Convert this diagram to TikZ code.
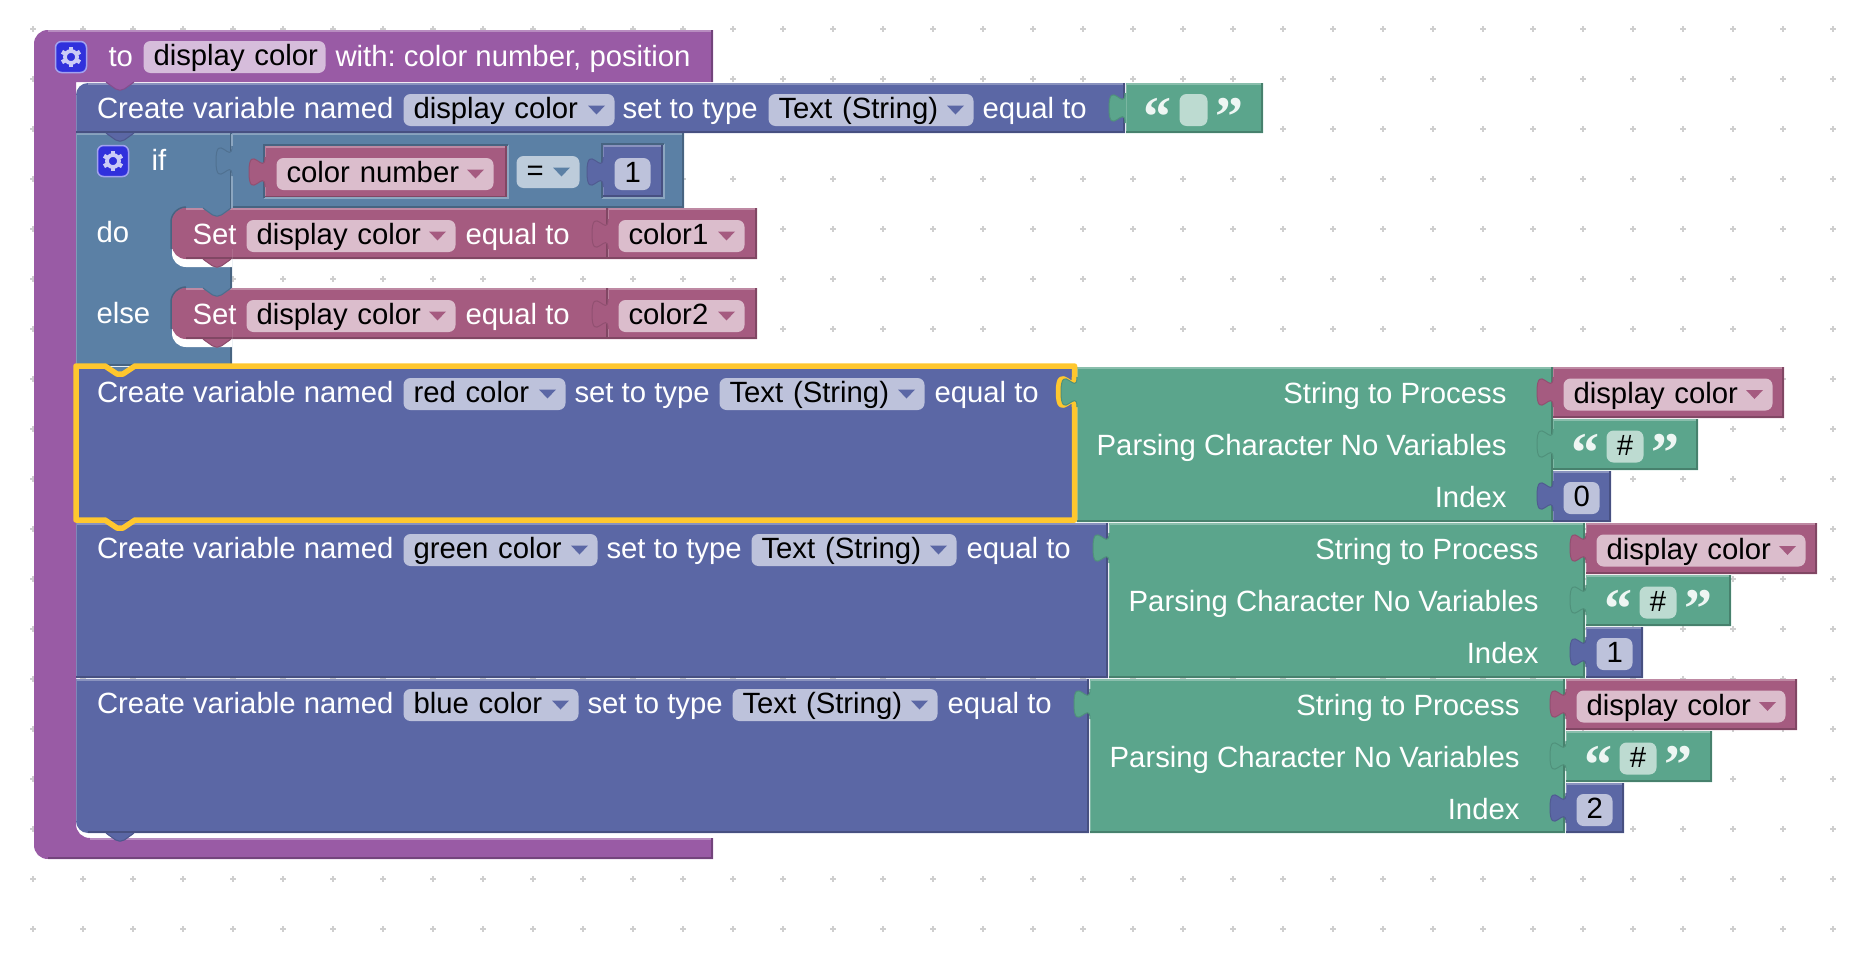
\documentclass[tikz,border=0pt]{standalone}
\usepackage{fontspec}
\setmainfont{Liberation Sans}
\newfontfamily\quotefont{Liberation Serif}
\usetikzlibrary{calc}
\definecolor{procc}{HTML}{995BA5}
\definecolor{varc}{HTML}{5B67A5}
\definecolor{ifc}{HTML}{5B80A5}
\definecolor{setc}{HTML}{A55B80}
\definecolor{txtc}{HTML}{5BA58C}
\definecolor{gearc}{HTML}{3030DC}
\definecolor{hilite}{HTML}{FFC72E}
\definecolor{dotc}{HTML}{CFCFCF}

\begin{document}
\begin{tikzpicture}[
  x=1pt, y=-1pt, line width=1pt,
  lbl/.style={font=\fontsize{29.3}{34}\selectfont\frenchspacing, text=white, anchor=base west, inner sep=0pt},
  lblr/.style={lbl, anchor=base east},
  fld/.style={font=\fontsize{29.3}{34}\selectfont\frenchspacing, text=black, fill=#1, rounded corners=7pt,
    anchor=west, minimum height=32pt, inner xsep=10pt, inner ysep=0pt,
    text height=22pt, text depth=5pt, align=left},
  fw/.style={minimum width=#1pt, text width=#1pt-20pt},
  quo/.style={font=\fontsize{56}{60}\quotefont\bfseries\selectfont, text=white, opacity=.9,
    anchor=base west, inner sep=0pt},
  gearbox/.style={fill=gearc, draw=gearc!45!white, line width=1.5pt, rounded corners=6pt,
    minimum size=31pt, inner sep=0pt},
]
  \useasboundingbox (0,0) rectangle (1866,964);

  % Workspace dots.
  \foreach \x in {33,83,...,1833} {
    \foreach \y in {29,79,...,929} {
      \draw[dotc, line width=1.7pt] (\x-3,\y) -- (\x+3,\y) (\x,\y-3) -- (\x,\y+3);
    }
  }

  % Procedure frame.
  \fill[procc] (713,30) -- (48,30) .. controls (40,30) and (34,36) .. (34,44) -- (34,845)
    .. controls (34,853) and (40,859) .. (48,859) -- (713,859) -- (713,838) -- (90,838)
    .. controls (82,838) and (76,832) .. (76,824) -- (76,82) -- (713,82) -- cycle;
  \draw[procc!70!white, line width=2pt] (48,31) -- (713,31);
  \draw[procc!70!white, line width=2pt] (90,839) -- (713,839);
  \draw[procc!75!black, line width=2pt] (712,30) -- (712,82);
  \draw[procc!75!black, line width=2pt] (712,838) -- (712,859);
  \draw[procc!75!black, line width=2pt] (48,858) -- (713,858);

  % Blocks: left, top, right, bottom, colour, top and bottom corner radius.
  \foreach \xa/\ya/\xb/\yb/\c/\rt/\rb in {
    76/133/232/366/ifc/0/0, 232/133/684/208/ifc/0/0,
    172/208/608/259/setc/14/14, 608/208/757/259/setc/0/0,
    172/288/608/339/setc/14/14, 608/288/757/339/setc/0/0,
    265/146/507/198/setc/0/0, 603/145/663/197/varc/0/0,
    76/83/1125/133/varc/12/0, 1126/83/1263/133/txtc/0/0,
    76/367/1076/522/varc/0/0, 1077/367/1553/522/txtc/0/0,
    76/523/1108/678/varc/0/0, 1109/523/1585/678/txtc/0/0,
    76/679/1089/833/varc/0/12, 1090/679/1565/833/txtc/0/0,
    1553/367/1784/418/setc/0/0, 1553/419/1698/470/txtc/0/0, 1553/471/1611/522/varc/0/0,
    1586/523/1817/574/setc/0/0, 1586/575/1731/626/txtc/0/0, 1586/627/1643/678/varc/0/0,
    1566/679/1797/730/setc/0/0, 1566/731/1712/782/txtc/0/0, 1566/783/1624/833/varc/0/0} {
    \fill[\c] (\xb,\ya) -- (\xa+\rt,\ya) .. controls (\xa+.45*\rt,\ya) and (\xa,\ya+.45*\rt) .. (\xa,\ya+\rt)
      -- (\xa,\yb-\rb) .. controls (\xa,\yb-.45*\rb) and (\xa+.45*\rb,\yb) .. (\xa+\rb,\yb) -- (\xb,\yb) -- cycle;
    \draw[\c!72!white, line width=2pt] (\xa+\rt,\ya+1) -- (\xb,\ya+1);
    \draw[\c!78!white, line width=1.2pt] (\xa+.6,\ya+\rt) -- (\xa+.6,\yb-\rb);
    \draw[\c!78!black, line width=2pt] (\xa+\rb,\yb-1) -- (\xb,\yb-1) (\xb-1,\ya) -- (\xb-1,\yb);
  }

  % White lips under the statement blocks.
  \foreach \ya in {259,339} {
    \draw[ifc!78!black, line width=1.5pt] (186,\ya-52) .. controls (178,\ya-52) and (171,\ya-45) .. (171,\ya-37)
      -- (171,\ya-10);
    \fill[white] (232,\ya-10) -- (172,\ya-10) -- (172,\ya-6) .. controls (172,\ya+2) and (178,\ya+8) .. (186,\ya+8)
      -- (232,\ya+8) -- cycle;
    \fill[setc] (232,\ya-51) -- (186,\ya-51) .. controls (178,\ya-51) and (172,\ya-45) .. (172,\ya-37) -- (172,\ya-14)
      .. controls (172,\ya-6) and (178,\ya) .. (186,\ya) -- (232,\ya) -- cycle;
    \draw[setc!78!black, line width=2pt] (186,\ya-1) -- (232,\ya-1);
    \draw[setc!72!white, line width=2pt] (186,\ya-50) -- (232,\ya-50);
  }
  \draw[ifc!70!white, line width=1.5pt] (232,134) -- (232,208);
  \draw[ifc!70!white, line width=1.5pt] (264,198) -- (508,198) -- (508,145);
  \draw[ifc!70!white, line width=1.5pt] (602,198) -- (664,198) -- (664,144);
  \draw[ifc!78!black, line width=1.5pt] (264,198) -- (264,145) -- (508,145);
  \draw[ifc!78!black, line width=1.5pt] (602,198) -- (602,144) -- (664,144);

  % Notches between statements: x, y, colour.
  \foreach \x/\y/\c in {105/82/procc, 105/133/varc, 105/367/ifc, 105/521/varc, 105/833/varc,
      202/208/ifc, 202/259/setc, 202/288/ifc, 202/339/setc} {
    \fill[\c, rounded corners=2pt] (\x,\y) -- (\x+12,\y+8) -- (\x+18,\y+8) -- (\x+30,\y) -- cycle;
    \draw[\c!85!black, line width=1pt, rounded corners=2pt] (\x+1,\y) -- (\x+12,\y+8) -- (\x+18,\y+8) -- (\x+29,\y);
  }

  % Highlight round the selected block.
  \draw[hilite, line width=5.5pt, line join=round] (76,366) -- (105,366) -- (117,374) -- (123,374)
    -- (135,366) -- (1074.5,366) -- (1074.5,377) .. controls (1074.5,397) and (1058.5,361) .. (1058.5,392)
    .. controls (1058.5,423) and (1074.5,387) .. (1074.5,407) -- (1074.5,520) -- (135,520)
    -- (123,528) -- (117,528) -- (105,520) -- (76,520) -- cycle;

  % Puzzle tabs: joint x, row top, colour.
  \foreach \x/\y/\c in {232/136/ifc, 265/147/setc, 603/147/varc, 608/209/setc, 608/289/setc,
      1125/83/txtc, 1077/367/txtc, 1109/523/txtc, 1090/679/txtc,
      1553/367/setc, 1553/419/txtc, 1553/471/varc,
      1586/523/setc, 1586/575/txtc, 1586/627/varc,
      1566/679/setc, 1566/731/txtc, 1566/783/varc} {
    \fill[\c] (\x+1,\y+10) -- (\x,\y+10) .. controls (\x,\y+30) and (\x-16,\y-6) .. (\x-16,\y+25)
      .. controls (\x-16,\y+56) and (\x,\y+20) .. (\x,\y+40) -- (\x+1,\y+40) -- cycle;
    \draw[\c!88!black, line width=1pt] (\x,\y+10) .. controls (\x,\y+30) and (\x-16,\y-6) .. (\x-16,\y+25)
      .. controls (\x-16,\y+56) and (\x,\y+20) .. (\x,\y+40);
  }

  % Gear buttons.
  \foreach \n/\x/\y in {gearproc/71/57, gearif/113/161} {
    \node[gearbox] (\n) at (\x,\y) {};
    \foreach \a in {30,90,...,330} {
      \draw[gearc!25!white, line width=4.2pt] (\n) ++(\a:7) -- ++(\a:3.4);
    }
    \draw[gearc!25!white, line width=3.8pt] (\n) circle (6);
  }

  % Header and plain labels.
  \node[lbl] (lto) at (108,66) {to};
  \node[fld=procc!40!white, fw=182] (fproc) at (143,57) {\mbox{display color}};
  \node[lbl] (lwith) at (335,66) {with: color number, position};
  \node[lbl] (lif) at (151,170) {if};
  \node[lbl] (ldo) at (96,242) {do};
  \node[lbl] (lelse) at (96,323) {else};

  % Set rows.
  \foreach \n/\y/\v in {a/236/color1, b/316/color2} {
    \node[lbl] (lset\n) at (192,\y+8) {Set};
    \node[fld=setc!40!white, fw=209] (fset\n) at (246,\y) {\mbox{display color}};
    \node[lbl] (leq\n) at (465,\y+8) {equal to};
    \node[fld=setc!40!white, fw=126] (fval\n) at (618,\y) {\v};
  }

  % Condition.
  \node[fld=setc!40!white, fw=217] (fcond) at (276,174) {\mbox{color number}};
  \node[fld=ifc!40!white, fw=63] (fop) at (516,172) {=};
  \node[fld=varc!40!white, fw=36, align=center] (fone) at (614,174) {1};

  % Create rows: row, y, named field and its width, then the x of the later parts.
  \foreach \n/\y/\w/\f/\s/\t/\q in {disp/110/211/display color/622/768/982,
      red/394/162/red color/574/719/934,
      green/550/194/green color/606/751/966,
      blue/705/175/blue color/587/732/947} {
    \node[lbl] (lcr\n) at (96.5,\y+8.5) {Create variable named};
    \node[fld=varc!40!white, fw=\w] (fname\n) at (403,\y) {\mbox{\f}};
    \node[lbl] (lty\n) at (\s,\y+8.5) {set to type};
    \node[fld=varc!40!white, fw=205] (ftype\n) at (\t,\y) {\mbox{Text (String)}};
    \node[lbl] (leq\n) at (\q,\y+8.5) {equal to};
  }

  % Parsing rows: labels, then their three inputs.
  \foreach \n/\r/\x/\y in {red/1507/1553/367, green/1539/1586/523, blue/1520/1566/679} {
    \node[lblr] (lstr\n) at (\r,\y+36) {String to Process};
    \node[lblr] (lpar\n) at (\r,\y+88) {Parsing Character No Variables};
    \node[lblr] (lidx\n) at (\r,\y+140) {Index};
    \node[fld=setc!40!white, fw=209] (fstr\n) at (\x+10,\y+27.5) {\mbox{display color}};
    \node[quo] (qo\n) at (\x+18,\y+104) {“};
    \node[fld=txtc!40!white, fw=37, align=center] (fhash\n) at (\x+53,\y+79.5) {\#};
    \node[quo] (qc\n) at (\x+98,\y+104) {”};
  }
  \foreach \n/\x/\y/\v in {red/1563/498/0, green/1596/654/1, blue/1576/810/2} {
    \node[fld=varc!40!white, fw=36, align=center] (fidx\n) at (\x,\y) {\v};
  }

  % Empty string of the first row.
  \node[quo] (qodisp) at (1143,135) {“};
  \node[fld=txtc!40!white, fw=28] (fempty) at (1179,110) {};
  \node[quo] (qcdisp) at (1215,135) {”};

  % Dropdown arrows.
  \foreach \n/\c in {fseta/setc, fvala/setc, fsetb/setc, fvalb/setc, fcond/setc, fop/ifc,
      fnamedisp/varc, fnamered/varc, fnamegreen/varc, fnameblue/varc,
      ftypedisp/varc, ftypered/varc, ftypegreen/varc, ftypeblue/varc,
      fstrred/setc, fstrgreen/setc, fstrblue/setc} {
    \fill[\c] ($(\n.east)+(-27,-4.5)$) -- ($(\n.east)+(-10,-4.5)$) -- ($(\n.east)+(-18.5,4.5)$) -- cycle;
  }
\end{tikzpicture}
\end{document}
